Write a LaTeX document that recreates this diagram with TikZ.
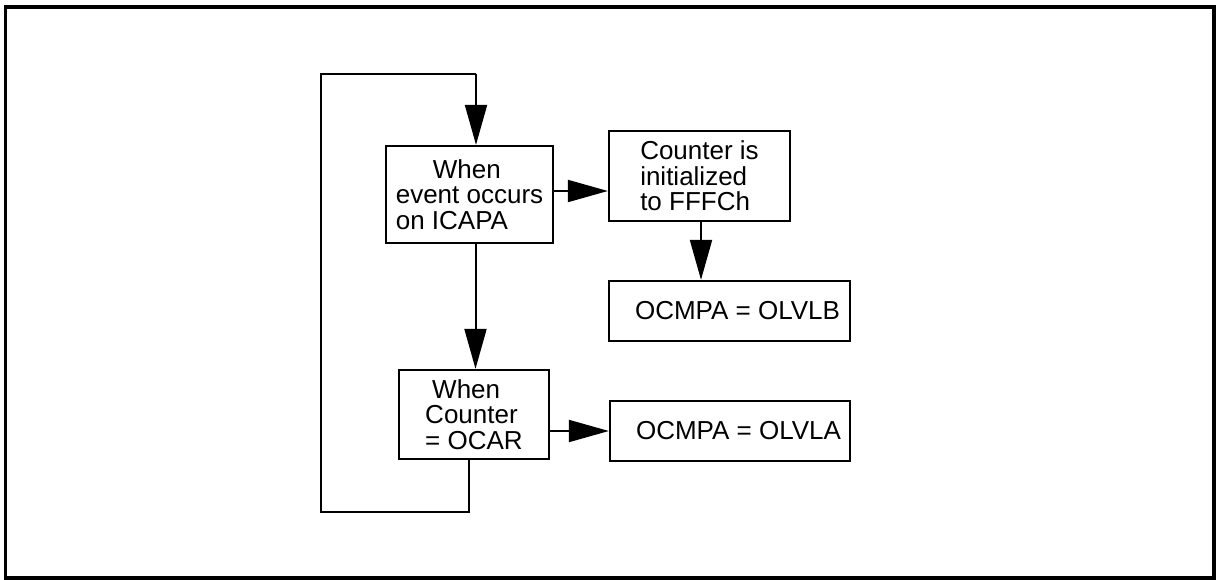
\documentclass[tikz,border=0pt]{standalone}
\usepackage{fontspec}
\setmainfont{Liberation Sans}
\usetikzlibrary{arrows.meta}
\begin{document}
\begin{tikzpicture}[x=1pt,y=-1pt,
  box/.style={draw,line width=2.3pt,inner sep=0pt,align=left,
    font=\fontsize{26pt}{25.5pt}\selectfont},
  conn/.style={line width=2pt,-{Triangle[length=40pt,width=22pt]}},
  plain/.style={line width=2pt}]
\useasboundingbox (0,0) rectangle (1219,579);
\draw[line width=3.8pt] (5.5,6.8) rectangle (1213.7,577.8);
\node[box,minimum width=167pt,minimum height=97pt] (b1) at (469.5,194.5)
  {\hspace*{37pt}When\\event occurs\\on ICAPA};
\node[box,minimum width=181pt,minimum height=90pt] (b2) at (699.5,176)
  {Counter is\\initialized\\to FFFCh};
\node[box,minimum width=241pt,minimum height=60pt] (b3) at (729.5,311)
  {\hspace*{16pt}OCMPA = OLVLB};
\node[box,minimum width=150pt,minimum height=89pt] (b4) at (474,414.5)
  {\hspace*{7pt}When\\Counter\\= OCAR};
\node[box,minimum width=240pt,minimum height=60pt] (b5) at (730,431)
  {\hspace*{17pt}OCMPA = OLVLA};
\coordinate (lb) at (321,512);
\coordinate (lt) at (321,74);
\draw[conn] ([yshift=3.5pt]b1.east) -- ([yshift=3.5pt]b1.east -| b2.west);
\draw[conn] ([xshift=1.5pt]b2.south) -- ([xshift=1.5pt]b2.south |- b3.north);
\draw[conn] ([xshift=1.5pt]b4.north |- b1.south) -- ([xshift=1.5pt]b4.north);
\draw[conn] (b4.east |- b5.west) -- (b5.west);
\draw[plain] ([xshift=-5pt]b4.south) -- ([xshift=-5pt]b4.south |- lb) -- (lb) -- (lt)
  -- ([xshift=6.5pt]b1.north |- lt);
\draw[conn] ([xshift=6.5pt]b1.north |- lt) -- ([xshift=6.5pt]b1.north);
\end{tikzpicture}
\end{document}
